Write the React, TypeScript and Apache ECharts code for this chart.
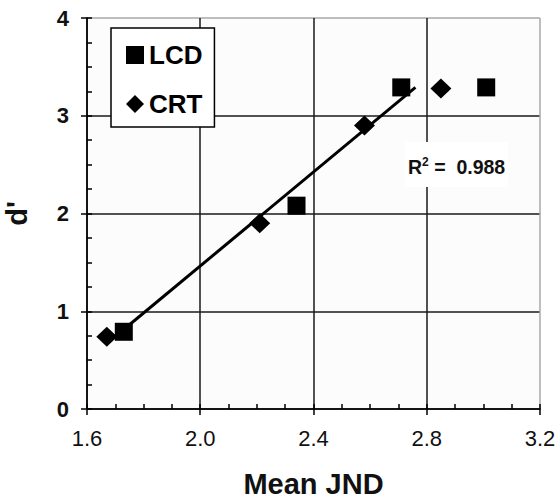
import React, { useEffect, useRef } from 'react';
import * as echarts from 'echarts';

const lcdData: number[][] = [[1.73, 0.79], [2.34, 2.08], [2.71, 3.29], [3.01, 3.29]];
const crtData: number[][] = [[1.67, 0.74], [2.21, 1.9], [2.58, 2.9], [2.85, 3.28]];
const fitLine: number[][] = [[1.72, 0.79], [2.76, 3.29]];
const xTickLabels = ['1.6', '2.0', '2.4', '2.8', '3.2'];
const yTickLabels = ['0', '1', '2', '3', '4'];
const seriesNames = ['LCD', 'CRT'];
const rSquared = '0.988';

const FONT = 'Liberation Sans, Arial, sans-serif';

export default function App() {
  const ref = useRef<HTMLDivElement>(null);
  useEffect(() => {
    if (!ref.current) return;
    const chart = echarts.init(ref.current, undefined, { renderer: 'svg' });
    const dark = '#1a1a1a';
    const light = '#a8a8a8';
    const splitColors = (n: number) =>
      Array.from({ length: n }, (_, i) => (i === n - 1 ? light : i % 4 === 0 ? dark : 'rgba(0,0,0,0)'));
    const xBase = { type: 'value', min: 1.6, max: 3.2 };
    const yBase = { type: 'value', min: 0, max: 4 };
    const majorAxisX = {
      ...xBase, interval: 0.4, position: 'bottom',
      axisLine: { show: false }, axisLabel: { show: false }, splitLine: { show: false },
      axisTick: { show: true, length: 6, lineStyle: { color: '#000', width: 1.5 } },
    };
    const majorAxisY = {
      ...yBase, interval: 1, position: 'left',
      axisLine: { show: false }, axisLabel: { show: false }, splitLine: { show: false },
      axisTick: { show: true, length: 6, lineStyle: { color: '#000', width: 1.5 } },
    };
    chart.setOption({
      animation: false,
      backgroundColor: '#ffffff',
      grid: {
        left: 87, right: 19, top: 18, bottom: 94,
        outerBoundsMode: 'none', containLabel: false,
        show: true, backgroundColor: '#fcfcfc', borderWidth: 0,
      },
      xAxis: [
        {
          ...xBase, interval: 0.1, position: 'bottom',
          name: 'Mean JND', nameLocation: 'middle', nameGap: 60,
          nameTextStyle: { fontFamily: FONT, fontSize: 29, fontWeight: 'bold', color: '#111' },
          axisLine: { show: true, lineStyle: { color: '#000', width: 1.5 } },
          axisTick: { show: true, inside: true, length: 5, lineStyle: { color: '#000', width: 1.5 } },
          axisLabel: {
            margin: 18, fontFamily: FONT, fontSize: 22, color: '#111', hideOverlap: false,
            formatter: (v: number) => {
              const i = Math.round((v - 1.6) / 0.1);
              return i % 4 === 0 ? xTickLabels[i / 4] ?? '' : '';
            },
          },
          splitLine: { show: true, lineStyle: { color: splitColors(17), width: 1.5 } },
        },
        majorAxisX,
      ],
      yAxis: [
        {
          ...yBase, interval: 0.25, position: 'left',
          name: "d'", nameLocation: 'middle', nameGap: 56, nameRotate: 90,
          nameTextStyle: { fontFamily: FONT, fontSize: 29, fontWeight: 'bold', color: '#111' },
          axisLine: { show: true, lineStyle: { color: '#000', width: 1.5 } },
          axisTick: { show: true, inside: true, length: 5, lineStyle: { color: '#000', width: 1.5 } },
          axisLabel: {
            margin: 18, fontFamily: FONT, fontSize: 22, color: '#111', fontWeight: 'bold', hideOverlap: false,
            formatter: (v: number) => {
              const i = Math.round(v / 0.25);
              return i % 4 === 0 ? yTickLabels[i / 4] ?? '' : '';
            },
          },
          splitLine: { show: true, lineStyle: { color: splitColors(17), width: 1.5 } },
        },
        majorAxisY,
      ],
      legend: {
        data: seriesNames,
        orient: 'vertical',
        left: 111, top: 28,
        padding: [14, 12, 10, 15],
        itemGap: 23,
        itemWidth: 18, itemHeight: 18,
        itemTextGap: 6,
        borderColor: '#000', borderWidth: 1.5,
        backgroundColor: '#ffffff',
        textStyle: { fontFamily: FONT, fontSize: 26, fontWeight: 'bold', color: '#000', lineHeight: 20 },
      },
      graphic: [
        {
          type: 'text',
          left: 405, top: 142,
          z: 10,
          style: {
            text: '{a|R}{s|2}{a| =  ' + rSquared + '}',
            backgroundColor: '#ffffff',
            padding: [14, 3, 10, 3],
            rich: {
              a: { fontFamily: FONT, fontSize: 19.5, fontWeight: 'bold', fill: '#111', verticalAlign: 'bottom', lineHeight: 21 },
              s: { fontFamily: FONT, fontSize: 12, fontWeight: 'bold', fill: '#111', verticalAlign: 'top', lineHeight: 21 },
            },
          },
        },
      ],
      series: [
        {
          name: 'fit', type: 'line', data: fitLine, symbol: 'none',
          lineStyle: { color: '#000', width: 3 }, z: 3, silent: true,
        },
        {
          name: seriesNames[0], type: 'scatter', data: lcdData, symbol: 'rect', symbolSize: 18,
          itemStyle: { color: '#000', opacity: 1 }, z: 4,
        },
        {
          name: seriesNames[1], type: 'scatter', data: crtData, symbol: 'diamond', symbolSize: [21, 20],
          itemStyle: { color: '#000', opacity: 1 }, z: 4,
        },
        {
          name: 'ticks', type: 'scatter', data: [], xAxisIndex: 1, yAxisIndex: 1, silent: true,
        },
      ],
    });
    return () => chart.dispose();
  }, []);
  return <div ref={ref} style={{ width: 559, height: 503, position: 'absolute', left: 0, top: 0 }} />;
}
